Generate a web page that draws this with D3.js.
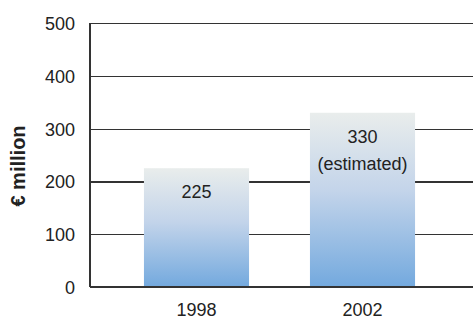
<!DOCTYPE html>
<html>
<head>
<meta charset="utf-8">
<script src="https://cdn.jsdelivr.net/npm/d3@7"></script>
<style>
  html, body { margin: 0; padding: 0; background: #fff; }
  svg { display: block; font-family: "Liberation Sans", Arial, Helvetica, sans-serif; }
</style>
</head>
<body>
<svg id="chart" width="473" height="321"></svg>
<script>
// Spending by year, € million
const years = ["1998", "2002"];
const amounts = [225, 330];
const valueLabels = [["225"], ["330", "(estimated)"]];
const yTicks = [0, 100, 200, 300, 400, 500];
const yTitle = "€ million";

const svg = d3.select("#chart");
const W = 473, H = 321;
const margin = { top: 23, bottom: 34, left: 90 };

const x = d3.scaleBand()
  .domain(years)
  .range([margin.left, 469])
  .paddingInner(0.367)
  .paddingOuter(0.325);

const y = d3.scaleLinear()
  .domain([0, 500])
  .range([H - margin.bottom, margin.top]);

// vertical gradient for the bars
const defs = svg.append("defs");
const grad = defs.append("linearGradient")
  .attr("id", "barFill")
  .attr("x1", 0).attr("y1", 0).attr("x2", 0).attr("y2", 1);
grad.append("stop").attr("offset", "0%").attr("stop-color", "#e9edec");
grad.append("stop").attr("offset", "45%").attr("stop-color", "#c3d4ea");
grad.append("stop").attr("offset", "100%").attr("stop-color", "#73a9de");

// horizontal grid lines via the y axis
const yAxis = d3.axisLeft(y)
  .tickValues(yTicks)
  .tickSize(-(W - margin.left))
  .tickPadding(15);

const gy = svg.append("g")
  .attr("transform", `translate(${margin.left},0)`)
  .call(yAxis);
gy.select(".domain").remove();
gy.selectAll(".tick line")
  .attr("stroke", "#333")
  .attr("stroke-width", 1.2)
  .attr("shape-rendering", "crispEdges");
gy.selectAll(".tick text")
  .attr("fill", "#222")
  .attr("font-size", 18)
  .attr("dy", "0.36em");

// left axis line
svg.append("line")
  .attr("x1", margin.left).attr("x2", margin.left)
  .attr("y1", y(500)).attr("y2", y(0))
  .attr("stroke", "#333")
  .attr("stroke-width", 1.2)
  .attr("shape-rendering", "crispEdges");

// bars
svg.append("g").selectAll("rect")
  .data(years)
  .join("rect")
  .attr("x", d => x(d))
  .attr("width", x.bandwidth())
  .attr("y", (d, i) => y(amounts[i]))
  .attr("height", (d, i) => y(0) - y(amounts[i]))
  .attr("fill", "url(#barFill)");

// baseline over the bars
svg.append("line")
  .attr("x1", margin.left).attr("x2", W)
  .attr("y1", y(0)).attr("y2", y(0))
  .attr("stroke", "#333")
  .attr("stroke-width", 1.2)
  .attr("shape-rendering", "crispEdges");

// value labels inside the bars
years.forEach((yr, i) => {
  const cx = x(yr) + x.bandwidth() / 2;
  const t = svg.append("text")
    .attr("x", cx)
    .attr("y", y(amounts[i]) + 30)
    .attr("text-anchor", "middle")
    .attr("fill", "#222")
    .attr("font-size", 18);
  valueLabels[i].forEach((line, j) => {
    t.append("tspan")
      .attr("x", cx)
      .attr("dy", j === 0 ? 0 : 27)
      .text(line);
  });
});

// category labels
const xAxis = d3.axisBottom(x).tickSize(0).tickPadding(16);
const gx = svg.append("g")
  .attr("transform", `translate(0,${y(0)})`)
  .call(xAxis);
gx.select(".domain").remove();
gx.selectAll(".tick text")
  .attr("fill", "#222")
  .attr("font-size", 18);

// y axis title
svg.append("text")
  .attr("transform", `translate(25,${(y(500) + y(0)) / 2 + 11}) rotate(-90)`)
  .attr("text-anchor", "middle")
  .attr("font-size", 20)
  .attr("font-weight", "bold")
  .attr("fill", "#222")
  .text(yTitle);
</script>
</body>
</html>
